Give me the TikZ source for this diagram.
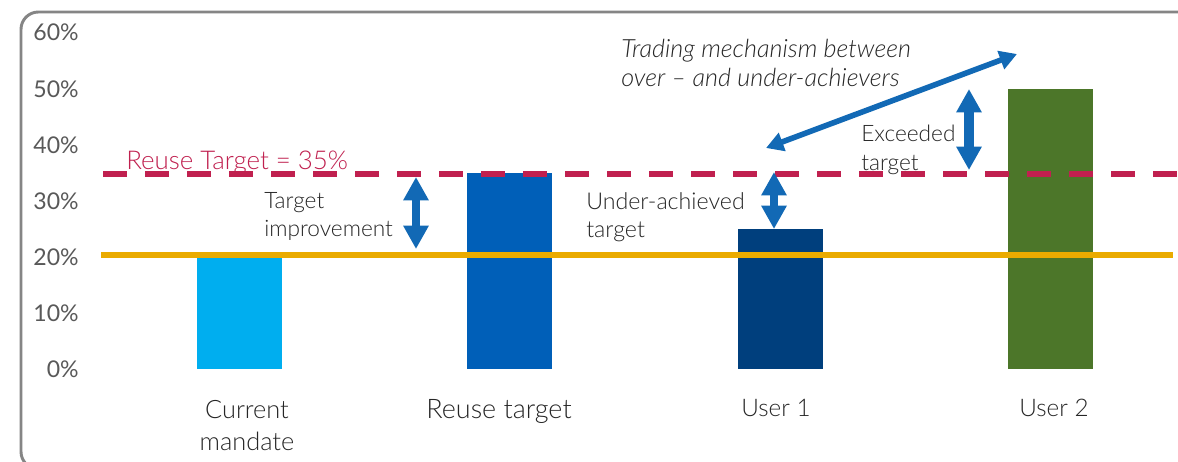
\documentclass[tikz,border=0pt]{standalone}
\usepackage{fontspec}
\setmainfont{Lato}[UprightFont={* Light},ItalicFont={* Light Italic}]
\newfontfamily\axisfont{Lato}
\usetikzlibrary{arrows.meta}
\definecolor{axisgrey}{HTML}{595959}
\definecolor{framegrey}{HTML}{858585}
\definecolor{txt}{HTML}{262626}
\definecolor{redline}{HTML}{C0204F}
\definecolor{goldline}{HTML}{EAAB00}
\definecolor{arrowblue}{HTML}{1269B5}
\definecolor{barcyan}{RGB}{0,174,239}
\definecolor{barblue}{RGB}{0,95,184}
\definecolor{barnavy}{RGB}{0,63,125}
\definecolor{bargreen}{RGB}{76,118,41}
\tikzset{
  axl/.style={font=\axisfont\fontsize{17.3pt}{18pt}\selectfont, text=axisgrey, anchor=east, inner sep=0pt},
  lbl/.style={font=\fontsize{17pt}{21.5pt}\selectfont, text=txt, align=left, anchor=north west, inner sep=0pt},
  cat/.style={font=\fontsize{19pt}{24pt}\selectfont, text=txt, align=center, anchor=north, inner sep=0pt},
  bigdbl/.style={arrowblue, line width=6pt, {Triangle[length=17.5pt,width=18pt]}-{Triangle[length=17.5pt,width=18pt]}},
  slantdbl/.style={arrowblue, line width=4.2pt, {Triangle[length=13pt,width=14pt]}-{Triangle[length=13pt,width=14pt]}}
}
\begin{document}
\begin{tikzpicture}[x=0.75pt,y=-0.75pt]
\useasboundingbox (0,0) rectangle (1178,461);
\clip (0,0) rectangle (1178,461);
\fill[white] (0,0) rectangle (1178,461);
\draw[framegrey,line width=2.2pt,rounded corners=13pt] (1210,469) -- (21,469) -- (21,12) -- (1210,12);
\foreach \v/\y in {60/32,50/89,40/145,30/201,20/257,10/313,0/369}
  \node[axl] (a\v) at (79,\y) {\v\%};
\fill[barcyan] (197,257) rectangle (282,369);
\fill[barblue] (467,173) rectangle (552,369);
\fill[barnavy] (738,229) rectangle (823,369);
\fill[bargreen] (1008,89) rectangle (1093,369);
\coordinate (rs) at (103,174);
\coordinate (re) at (1178,174);
\coordinate (gs) at (101,254.5);
\coordinate (ge) at (1173,254.5);
\node[font=\fontsize{19.4pt}{20pt}\selectfont,text=redline,anchor=base west,inner sep=0pt] (rt) at (126,169) {Reuse Target = 35\%};
\draw[redline,line width=4.3pt,dash pattern=on 18pt off 13.5pt] (rs) -- (re);
\draw[goldline,line width=4.5pt] (gs) -- (ge);
\node[lbl] (ti) at (264,192) {Target\\improvement};
\node[lbl,font=\fontsize{17.4pt}{21.5pt}\selectfont] (ua) at (586,192) {Under-achieved\\target};
\node[lbl] (ex) at (861,125) {Exceeded\\target};
\node[lbl,font=\fontsize{18.85pt}{21.5pt}\selectfont\itshape] (tm) at (621,39) {Trading mechanism between\\over -- and under-achievers};
\coordinate (a1) at (416,177); \coordinate (a2) at (416,249);
\coordinate (b1) at (774,172); \coordinate (b2) at (774,229);
\coordinate (c1) at (969,89);  \coordinate (c2) at (969,170);
\coordinate (d1) at (766,148); \coordinate (d2) at (1017,54);
\draw[bigdbl] (a1) -- (a2);
\draw[bigdbl] (b1) -- (b2);
\draw[bigdbl,line width=7.5pt] (c1) -- (c2);
\draw[slantdbl] (d1) -- (d2);
\node[cat] (c1l) at (247,400) {Current\\mandate};
\node[cat,font=\fontsize{20.2pt}{24pt}\selectfont] (c2l) at (499,399) {Reuse target};
\node[cat,font=\fontsize{18.2pt}{24pt}\selectfont] (c3l) at (776,399) {User 1};
\node[cat,font=\fontsize{18.2pt}{24pt}\selectfont] (c4l) at (1054,399) {User 2};
\end{tikzpicture}
\end{document}
